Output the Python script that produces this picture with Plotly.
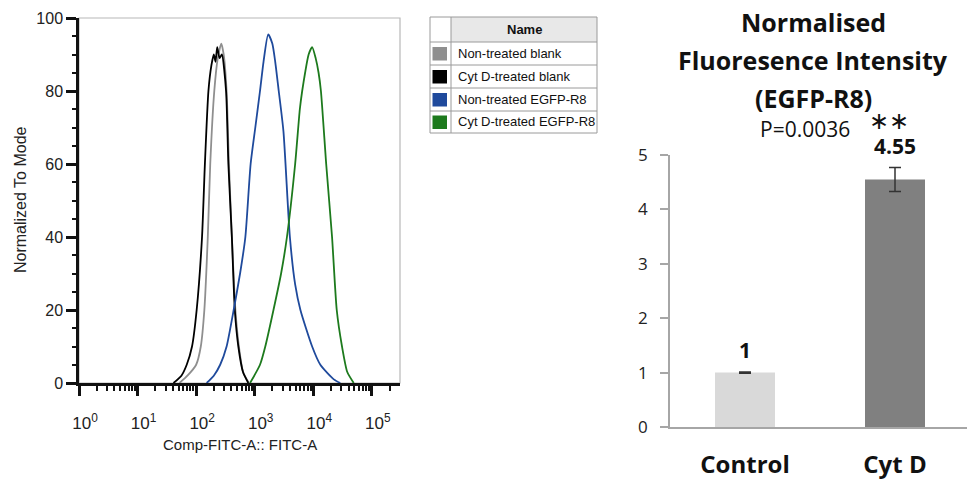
import plotly.graph_objects as go

W, H = 968, 479

def px(x):
    return x / W

def py(y):
    return 1 - y / H

# ---------------- Histogram data (FITC intensity, % of mode) ----------------
gray_x = [52, 71, 100, 120, 138, 158, 174, 204, 234, 269, 295, 331, 363, 407, 468, 537, 631, 794]
gray_y = [0, 2, 5, 10, 20, 40, 60, 80, 89, 93, 90, 80, 60, 40, 20, 10, 3, 0]

black_x = [41, 56, 69, 85, 102, 126, 141, 162, 182, 200, 214, 229, 251, 275, 324, 355, 407, 457, 525, 631, 776]
black_y = [0, 2, 5, 10, 20, 40, 60, 80, 87, 90, 88, 92, 89, 90, 80, 60, 40, 20, 10, 3, 0]

blue_x = [151, 200, 257, 331, 437, 562, 692, 851, 1023, 1230, 1413, 1698, 1995, 2239, 2570, 3090, 3981, 4898, 6026, 9550, 13183, 22387, 28840]
blue_y = [0, 2, 5, 10, 20, 30, 40, 60, 70, 80, 88, 95.5, 93, 88, 80, 69, 40, 27, 20, 10, 5, 1, 0]

green_x = [832, 1230, 1514, 2089, 2818, 3548, 4898, 5888, 6457, 7244, 8318, 9550, 10965, 12303, 13490, 16596, 20893, 25119, 30903, 38019, 48978]
green_y = [0, 5, 10, 20, 30, 40, 60, 75, 80, 85, 90, 92, 89, 85, 80, 60, 40, 20, 10, 3, 0]

series_names = ["Non-treated blank", "Cyt D-treated blank", "Non-treated EGFP-R8", "Cyt D-treated EGFP-R8"]
series_colors = ["#8f8f8f", "#000000", "#1f4a9c", "#1d7a1d"]

x_tick_vals = [1, 10, 100, 1000, 10000, 100000]
x_tick_text = ["10<sup>0</sup>", "10<sup>1</sup>", "10<sup>2</sup>", "10<sup>3</sup>", "10<sup>4</sup>", "10<sup>5</sup>"]
y_tick_vals = [0, 20, 40, 60, 80, 100]

# ---------------- Bar chart data ----------------
categories = ["Control", "Cyt D"]
bar_values = [1.0, 4.55]
bar_errors = [0.01, 0.22]
bar_labels = ["1", "4.55"]
bar_colors = ["#d9d9d9", "#808080"]
p_text = "P=0.0036"
sig_text = "∗∗"
title_lines = ["Normalised", "Fluoresence Intensity", "(EGFP-R8)"]

ARIAL = "Liberation Sans, Arial, sans-serif"
CAL = "Open Sans, Lato, sans-serif"

fig = go.Figure()

hist = [(gray_x, gray_y), (black_x, black_y), (blue_x, blue_y), (green_x, green_y)]
for (xs, ys), name, col in zip(hist, series_names, series_colors):
    fig.add_trace(go.Scatter(x=xs, y=ys, mode="lines", name=name,
                             line=dict(color=col, width=1.8, shape="spline", smoothing=0.6),
                             xaxis="x", yaxis="y", showlegend=False))

fig.add_trace(go.Bar(x=categories, y=bar_values, marker=dict(color=bar_colors, line=dict(width=0)),
                     width=0.4,
                     error_y=dict(type="data", array=bar_errors, visible=True, color="#333333",
                                  thickness=1.5, width=6),
                     xaxis="x2", yaxis="y2", showlegend=False))

minor_x = [m * 10 ** k for k in range(0, 6) for m in range(2, 10) if m * 10 ** k < 2.9e5]

fig.update_layout(
    width=W, height=H,
    margin=dict(l=0, r=0, t=0, b=0, autoexpand=False),
    paper_bgcolor="white", plot_bgcolor="white",
    xaxis=dict(domain=[px(79), px(400)], type="log", range=[0, 5.48], automargin=False,
               tickvals=x_tick_vals, ticktext=x_tick_text,
               ticks="outside", ticklen=10, tickwidth=2.5, tickcolor="#111",
               showline=True, linecolor="#111", linewidth=2.5,
               showgrid=False, zeroline=False,
               minor=dict(tickvals=minor_x, ticks="outside", ticklen=5, tickwidth=1.8, tickcolor="#111", showgrid=False),
               tickfont=dict(family=ARIAL, size=17, color="#222"),
               ticklabelshift=6, ticklabelstandoff=13, anchor="y"),
    yaxis=dict(domain=[py(383), py(18)], range=[0, 100], automargin=False,
               tickvals=y_tick_vals,
               ticks="outside", ticklen=10, tickwidth=2.5, tickcolor="#111",
               showline=True, linecolor="#111", linewidth=2.5,
               showgrid=False, zeroline=False,
               minor=dict(dtick=5, ticks="outside", ticklen=4, tickwidth=2, tickcolor="#111", showgrid=False),
               tickfont=dict(family=ARIAL, size=16, color="#222"),
               anchor="x"),
    xaxis2=dict(domain=[px(670), px(967)], type="category", range=[-0.5, 1.48], automargin=False,
                showline=True, linecolor="#a6a6a6", linewidth=1.5, ticks="",
                showgrid=False, zeroline=False,
                tickfont=dict(family=CAL, size=24, color="#111", weight="bold"),
                ticklabelstandoff=15, anchor="y2"),
    yaxis2=dict(domain=[py(427), py(155)], range=[0, 5], automargin=False,
                tickvals=[0, 1, 2, 3, 4, 5],
                ticks="outside", ticklen=8, tickwidth=1.5, tickcolor="#a6a6a6",
                showline=True, linecolor="#a6a6a6", linewidth=1.5,
                showgrid=False, zeroline=False,
                tickfont=dict(family=CAL, size=17, color="#222"),
                ticklabelstandoff=9, anchor="x2"),
)

shapes = []
# light frame (top/right) of the histogram
shapes.append(dict(type="rect", xref="x domain", yref="y domain", x0=0, x1=1, y0=0, y1=1,
                   line=dict(color="#b8b8b8", width=1.2), layer="below"))

# legend table
tl, tc, tr = 430, 451, 597
rows = [17, 42, 65, 88, 111, 133]
shapes.append(dict(type="rect", xref="paper", yref="paper", x0=px(tc), x1=px(tr), y0=py(rows[1]), y1=py(rows[0]),
                   fillcolor="#e8e8e8", line=dict(width=0), layer="below"))
shapes.append(dict(type="rect", xref="paper", yref="paper", x0=px(tl), x1=px(tr), y0=py(rows[-1]), y1=py(rows[0]),
                   line=dict(color="#9a9a9a", width=1)))
shapes.append(dict(type="line", xref="paper", yref="paper", x0=px(tc), x1=px(tc), y0=py(rows[-1]), y1=py(rows[0]),
                   line=dict(color="#9a9a9a", width=1)))
for r in rows[1:-1]:
    shapes.append(dict(type="line", xref="paper", yref="paper", x0=px(tl), x1=px(tr), y0=py(r), y1=py(r),
                       line=dict(color="#9a9a9a", width=1)))

annotations = []
annotations.append(dict(xref="paper", yref="paper", x=px((tc + tr) / 2), y=py((rows[0] + rows[1]) / 2),
                        text="<b>Name</b>", showarrow=False, xanchor="center", yanchor="middle",
                        font=dict(family=ARIAL, size=13, color="#111")))
for i, (name, col) in enumerate(zip(series_names, series_colors)):
    top, bot = rows[i + 1], rows[i + 2]
    cy = (top + bot) / 2
    shapes.append(dict(type="rect", xref="paper", yref="paper", x0=px(432.5), x1=px(447), y0=py(cy + 7), y1=py(cy - 6.5),
                       fillcolor=col, line=dict(width=0)))
    annotations.append(dict(xref="paper", yref="paper", x=px(456), y=py(cy), text=name, showarrow=False,
                            xanchor="left", yanchor="middle", font=dict(family=ARIAL, size=13, color="#111")))

# histogram axis titles
annotations.append(dict(xref="paper", yref="paper", x=px(20), y=py(200), text="Normalized To Mode",
                        textangle=-90, showarrow=False, xanchor="center", yanchor="middle",
                        font=dict(family=ARIAL, size=16, color="#222")))
annotations.append(dict(xref="paper", yref="paper", x=px(240), y=py(444), text="Comp-FITC-A:: FITC-A",
                        showarrow=False, xanchor="center", yanchor="middle",
                        font=dict(family=ARIAL, size=15, color="#222")))

# bar chart title
for line, ypos in zip(title_lines, [22, 60, 98]):
    annotations.append(dict(xref="paper", yref="paper", x=px(813), y=py(ypos), text="<b>%s</b>" % line,
                            showarrow=False, xanchor="center", yanchor="middle",
                            font=dict(family=CAL, size=25, color="#111")))

# value labels above error bars
for cat, v, e, lab in zip(categories, bar_values, bar_errors, bar_labels):
    annotations.append(dict(xref="x2", yref="y2", x=cat, y=v + e, text="<b>%s</b>" % lab, showarrow=False,
                            xanchor="center", yanchor="bottom", yshift=6,
                            font=dict(family=CAL, size=21, color="#111")))

annotations.append(dict(xref="paper", yref="paper", x=px(805), y=py(129), text=p_text, showarrow=False,
                        xanchor="center", yanchor="middle", font=dict(family=CAL, size=21, color="#111")))
annotations.append(dict(xref="paper", yref="paper", x=px(889), y=py(121), text=sig_text,
                        showarrow=False, xanchor="center", yanchor="middle",
                        font=dict(family="DejaVu Sans, sans-serif", size=24, color="#111")))

fig.update_layout(shapes=shapes, annotations=annotations)
fig.write_html("out.html", config={"displayModeBar": False},
               post_script="document.body.style.margin='0';document.body.style.padding='0';")
